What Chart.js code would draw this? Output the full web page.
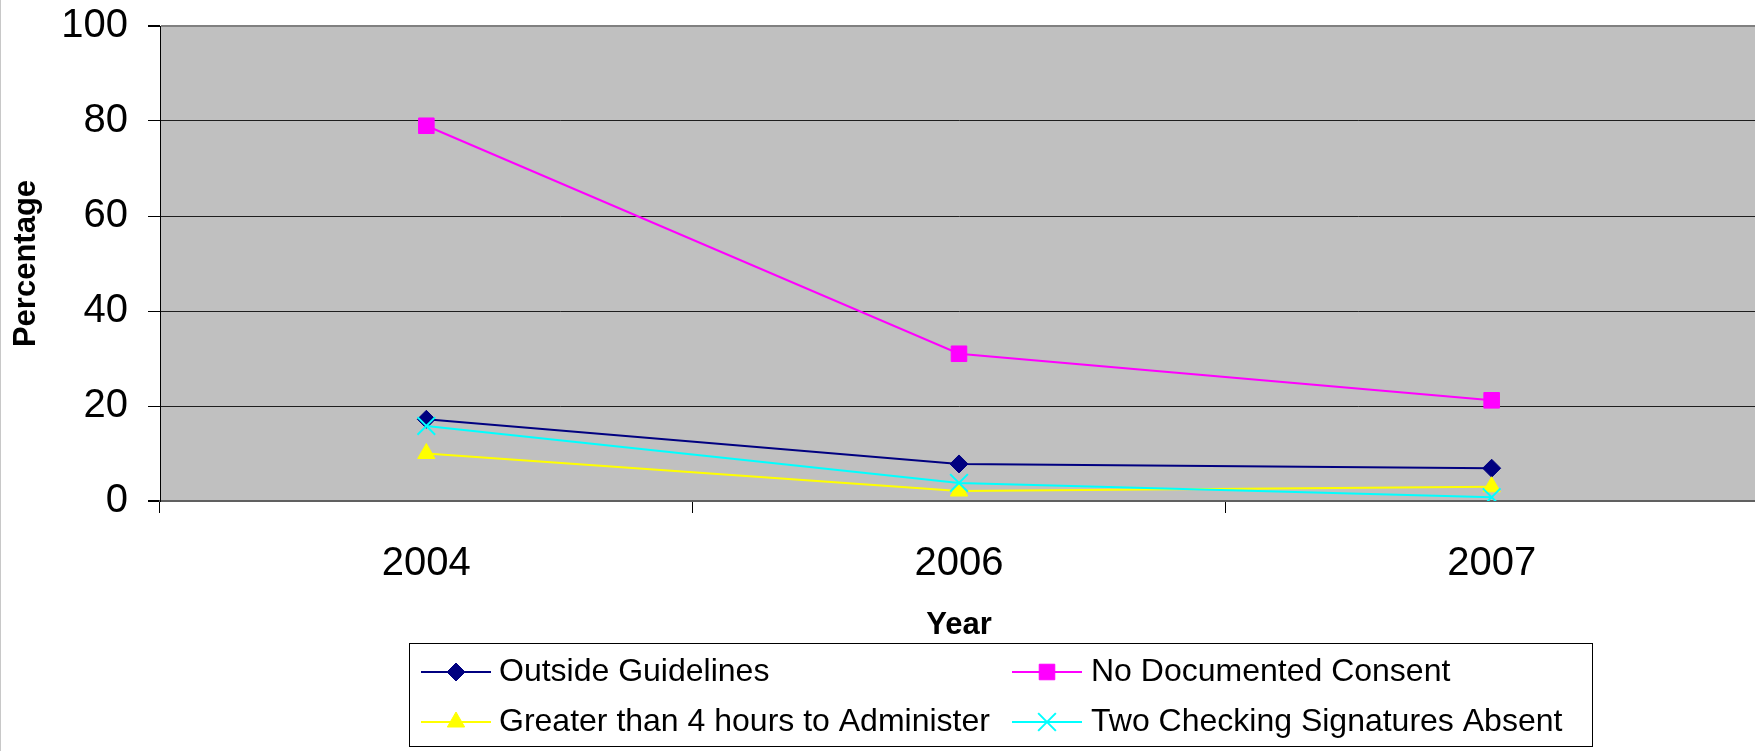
<!DOCTYPE html>
<html>
<head>
<meta charset="utf-8">
<script src="https://cdn.jsdelivr.net/npm/chart.js@4/dist/chart.umd.min.js"></script>
<style>
  html, body { margin: 0; padding: 0; background: #fff; overflow: hidden; }
  #wrap { width: 1755px; height: 751px; overflow: hidden; position: relative; }
  canvas { display: block; }
</style>
</head>
<body>
<div id="wrap"><canvas id="c" width="1758" height="751"></canvas></div>
<script>
const years = ['2004', '2006', '2007'];
const outsideGuidelines = [17.2, 7.8, 6.9];
const noDocumentedConsent = [79, 31, 21.2];
const greaterThan4Hours = [10, 2.1, 3];
const twoSignaturesAbsent = [15.8, 3.8, 0.8];
const seriesLabels = ['Outside Guidelines', 'No Documented Consent', 'Greater than 4 hours to Administer', 'Two Checking Signatures Absent'];
const yMin = 0, yMax = 100, yStep = 20;

const FONT = '"Liberation Sans", Arial, sans-serif';

const bgPlugin = {
  id: 'plotBg',
  beforeDraw(chart) {
    const {ctx, chartArea: a} = chart;
    ctx.save();
    ctx.fillStyle = '#c0c0c0';
    ctx.fillRect(a.left, a.top, a.right - a.left, a.bottom - a.top);
    ctx.fillStyle = '#c8c8c8';
    ctx.fillRect(0, 0, 1, chart.height);
    ctx.restore();
  }
};

const legendPlugin = {
  id: 'boxLegend',
  afterDraw(chart) {
    const ctx = chart.ctx;
    ctx.save();
    ctx.strokeStyle = '#000';
    ctx.lineWidth = 1;
    ctx.strokeRect(409.5, 643.5, 1183, 103);
    const cols = [{x0: 421, x1: 491, tx: 499}, {x0: 1012, x1: 1082, tx: 1091}];
    const rows = [672, 722];
    chart.data.datasets.forEach((ds, i) => {
      const c = cols[i % 2], y = rows[Math.floor(i / 2)];
      ctx.strokeStyle = ds.borderColor;
      ctx.lineWidth = 2;
      ctx.beginPath(); ctx.moveTo(c.x0, y); ctx.lineTo(c.x1, y); ctx.stroke();
      ctx.fillStyle = ds.pointBackgroundColor;
      ctx.strokeStyle = ds.pointBorderColor;
      ctx.lineWidth = ds.pointBorderWidth;
      Chart.helpers.drawPoint(ctx, {pointStyle: ds.pointStyle, radius: ds.pointRadius, rotation: 0, borderWidth: ds.pointBorderWidth}, (c.x0 + c.x1) / 2, y);
      ctx.fillStyle = '#000';
      ctx.font = '32px ' + FONT;
      ctx.textBaseline = 'middle';
      ctx.textAlign = 'left';
      ctx.fillText(ds.label, c.tx, y);
    });
    ctx.restore();
  }
};

function mkDs(label, data, color, style, radius, bw, order) {
  return {
    label, data,
    borderColor: color, backgroundColor: color,
    borderWidth: 2,
    pointStyle: style, pointRadius: radius, pointHoverRadius: radius,
    pointBackgroundColor: color, pointBorderColor: color, pointBorderWidth: bw,
    tension: 0, fill: false, order
  };
}

new Chart(document.getElementById('c'), {
  type: 'line',
  data: {
    labels: years,
    datasets: [
      mkDs(seriesLabels[0], outsideGuidelines, '#000080', 'rectRot', 9, 1, 4),
      mkDs(seriesLabels[1], noDocumentedConsent, '#ff00ff', 'rect', 11, 1, 3),
      mkDs(seriesLabels[2], greaterThan4Hours, '#ffff00', 'triangle', 10, 1, 2),
      mkDs(seriesLabels[3], twoSignaturesAbsent, '#00ffff', 'crossRot', 12.5, 2, 1)
    ]
  },
  options: {
    responsive: false,
    devicePixelRatio: 1,
    animation: false,
    layout: { autoPadding: false, padding: { top: 26, left: 0, right: 0, bottom: 0 } },
    plugins: { legend: { display: false }, tooltip: { enabled: false } },
    scales: {
      x: {
        offset: true,
        grid: { offset: true, drawOnChartArea: false, drawTicks: true, tickLength: 12, tickColor: '#000', color: '#000' },
        border: { display: true, color: '#606060', width: 2 },
        ticks: { font: { family: FONT, size: 40 }, color: '#000', padding: 27, maxRotation: 0 },
        title: { display: true, text: 'Year', font: { family: FONT, size: 31, weight: 'bold' }, color: '#000', padding: { top: 0, bottom: 107 } },
        afterFit(s) { s.height = 250; s.paddingLeft = 0; s.paddingRight = 0; }
      },
      y: {
        min: yMin, max: yMax,
        grid: {
          drawTicks: true, tickLength: 12, tickColor: '#000',
          color: (ctx) => (ctx.tick && ctx.tick.value === yMax) ? '#808080' : (ctx.tick && ctx.tick.value === yMin ? '#606060' : '#1e1e1e'),
          lineWidth: (ctx) => (ctx.tick && (ctx.tick.value === yMax || ctx.tick.value === yMin)) ? 2 : 1
        },
        border: { display: true, color: '#000', width: 1 },
        ticks: { stepSize: yStep, font: { family: FONT, size: 40 }, color: '#000', padding: 20 },
        title: { display: true, text: 'Percentage', font: { family: FONT, size: 31, weight: 'bold' }, color: '#000', padding: { top: 8, bottom: 0 } },
        afterFit(s) { s.width = 160; s.paddingTop = 0; s.paddingBottom = 0; }
      }
    }
  },
  plugins: [bgPlugin, legendPlugin]
});
</script>
</body>
</html>
